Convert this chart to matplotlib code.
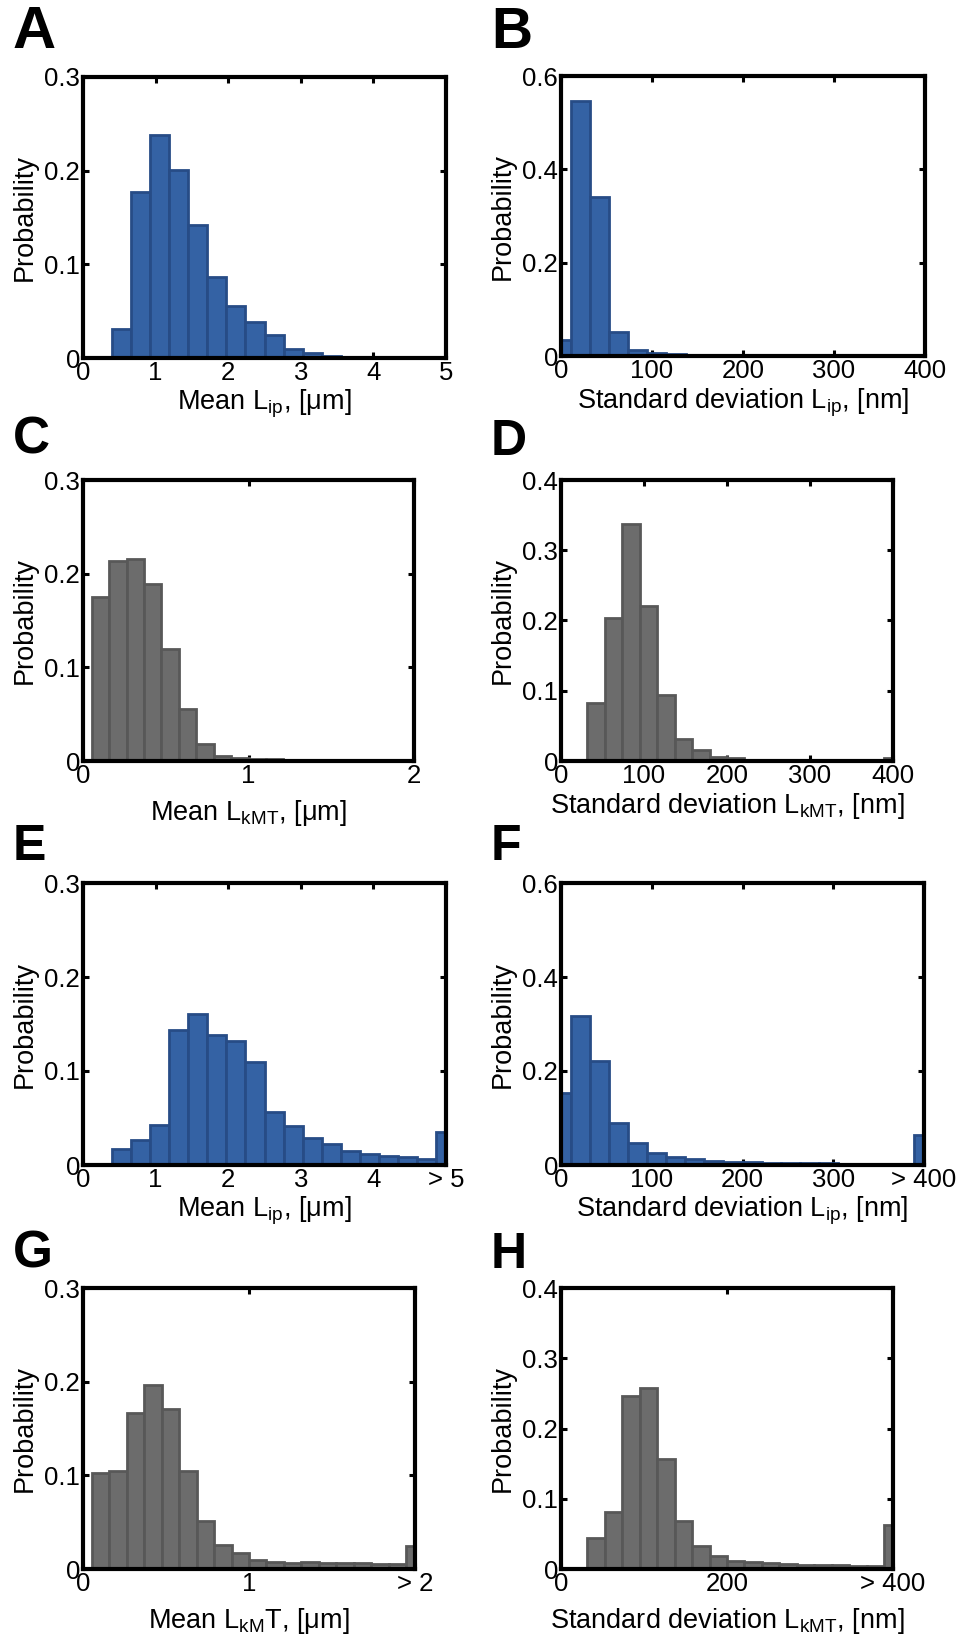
import numpy as np
import matplotlib as mpl
import matplotlib.pyplot as plt

mpl.rcParams.update({
    "font.family": ["Liberation Sans", "DejaVu Sans"],
    "mathtext.fontset": "custom",
    "mathtext.rm": "Liberation Sans",
    "mathtext.it": "Liberation Sans:italic",
    "mathtext.bf": "Liberation Sans:bold",
})

BLUE = "#3462a4"
BLUE_EDGE = "#274c86"
GREY = "#6c6c6c"
GREY_EDGE = "#585858"

# 20 bins, centres spread evenly over [0, xmax]
A_vals = [0, 0, 0.031, 0.177, 0.238, 0.201, 0.142, 0.087, 0.055, 0.038,
          0.025, 0.010, 0.005, 0.002, 0.0012, 0.0008, 0.0005, 0.0003, 0.0002, 0.0001]
B_vals = [0.035, 0.547, 0.340, 0.052, 0.013, 0.007, 0.004, 0.002, 0.0015, 0.001,
          0.001, 0.001, 0.001, 0.001, 0.001, 0.001, 0.001, 0.001, 0.001, 0.001]
C_vals = [0, 0.175, 0.213, 0.216, 0.189, 0.120, 0.056, 0.018, 0.0057, 0.0036,
          0.0025, 0.002, 0.0012, 0.001, 0.001, 0.001, 0.001, 0.001, 0.001, 0.0005]
D_vals = [0.001, 0.001, 0.082, 0.203, 0.337, 0.220, 0.094, 0.032, 0.0157, 0.005,
          0.004, 0.002, 0.002, 0.002, 0.002, 0.0015, 0.001, 0.001, 0.001, 0.004]
E_vals = [0, 0, 0.017, 0.0266, 0.0426, 0.144, 0.161, 0.138, 0.132, 0.110,
          0.056, 0.0415, 0.0284, 0.022, 0.0153, 0.0114, 0.0096, 0.0089, 0.006, 0.0355]
F_vals = [0.153, 0.317, 0.221, 0.090, 0.047, 0.026, 0.018, 0.013, 0.009, 0.0065,
          0.006, 0.005, 0.0045, 0.004, 0.004, 0.003, 0.002, 0.002, 0.002, 0.063]
G_vals = [0, 0.1025, 0.105, 0.167, 0.196, 0.171, 0.105, 0.051, 0.026, 0.017,
          0.010, 0.008, 0.0064, 0.007, 0.0064, 0.006, 0.006, 0.005, 0.005, 0.025]
H_vals = [0.001, 0.002, 0.044, 0.081, 0.246, 0.258, 0.157, 0.068, 0.033, 0.019,
          0.012, 0.0095, 0.009, 0.007, 0.006, 0.0057, 0.005, 0.004, 0.004, 0.063]

A_xticks = [0, 1, 2, 3, 4, 5]
A_xlabels = ["0", "1", "2", "3", "4", "5"]
B_xticks = [0, 100, 200, 300, 400]
B_xlabels = ["0", "100", "200", "300", "400"]
C_xticks = [0, 1, 2]
C_xlabels = ["0", "1", "2"]
E_xlabels = ["0", "1", "2", "3", "4", "> 5"]
F_xlabels = ["0", "100", "200", "300", "> 400"]
G_xlabels = ["0", "1", "> 2"]
H_xticks = [0, 200, 400]
H_xlabels = ["0", "200", "> 400"]

Y3 = [0, 0.1, 0.2, 0.3]
Y3_labels = ["0", "0.1", "0.2", "0.3"]
Y6 = [0, 0.2, 0.4, 0.6]
Y6_labels = ["0", "0.2", "0.4", "0.6"]
Y4 = [0, 0.1, 0.2, 0.3, 0.4]
Y4_labels = ["0", "0.1", "0.2", "0.3", "0.4"]

W, H = 959, 1642
fig = plt.figure(figsize=(W / 100, H / 100), dpi=100)

panels = [
    # letter, vals, xmax, xticks, xlabels, yticks, ylabels, color, edge, xlabel,
    # box (px l, r, t, b), labelpad, letter size, letter baseline offset
    ("A", A_vals, 5, A_xticks, A_xlabels, Y3, Y3_labels, BLUE, BLUE_EDGE,
     "Mean L$_{\\rm ip}$, [μm]", (83, 446, 77, 358), 2, 43, 29),
    ("B", B_vals, 400, B_xticks, B_xlabels, Y6, Y6_labels, BLUE, BLUE_EDGE,
     "Standard deviation L$_{\\rm ip}$, [nm]", (561, 925, 76, 356), 3, 41, 28),
    ("C", C_vals, 2, C_xticks, C_xlabels, Y3, Y3_labels, GREY, GREY_EDGE,
     "Mean L$_{\\rm kMT}$, [μm]", (83, 414, 480, 761), 7, 37, 27),
    ("D", D_vals, 400, B_xticks, B_xlabels, Y4, Y4_labels, GREY, GREY_EDGE,
     "Standard deviation L$_{\\rm kMT}$, [nm]", (561, 893, 480, 761), 2, 36, 25),
    ("E", E_vals, 5, A_xticks, E_xlabels, Y3, Y3_labels, BLUE, BLUE_EDGE,
     "Mean L$_{\\rm ip}$, [μm]", (83, 446, 883, 1165), 2, 36, 23),
    ("F", F_vals, 400, B_xticks, F_xlabels, Y6, Y6_labels, BLUE, BLUE_EDGE,
     "Standard deviation L$_{\\rm ip}$, [nm]", (561, 924, 883, 1165), 2, 36, 23),
    ("G", G_vals, 2, C_xticks, G_xlabels, Y3, Y3_labels, GREY, GREY_EDGE,
     "Mean L$_{\\rm kM}$T, [μm]", (83, 415, 1288, 1569), 7, 37, 21),
    ("H", H_vals, 400, H_xticks, H_xlabels, Y4, Y4_labels, GREY, GREY_EDGE,
     "Standard deviation L$_{\\rm kMT}$, [nm]", (561, 893, 1288, 1569), 7, 36, 20),
]

for letter, vals, xmax, xt, xl, yt, yl, col, edge, xlab, box, lpad, lsize, loff in panels:
    l, r, t, b = box
    ax = fig.add_axes([l / W, 1 - b / H, (r - l) / W, (b - t) / H])
    centers = np.linspace(0, xmax, len(vals))
    width = xmax / (len(vals) - 1)
    ax.bar(centers, vals, width=width, color=col, edgecolor=edge, linewidth=2.0,
           align="center", zorder=2)
    ax.set_xlim(0, xmax)
    ax.set_ylim(yt[0], yt[-1])
    ax.set_xticks(xt, xl)
    ax.set_yticks(yt, yl)
    ax.tick_params(direction="in", length=4, width=2.2, top=True, right=True,
                   labelsize=18.5, pad=2, colors="black")
    for s in ax.spines.values():
        s.set_linewidth(3.0)
        s.set_zorder(3)
    ax.set_xlabel(xlab, fontsize=19.5, labelpad=lpad)
    ax.set_ylabel("Probability", fontsize=19.5)
    # right edge of the rotated label sits ~45 px left of the axis
    ax.yaxis.set_label_coords(-45 / (r - l), 0.5)
    fig.text((l - 70) / W, 1 - (t - loff) / H, letter, fontsize=lsize,
             fontweight="bold", ha="left", va="baseline")

fig.savefig("out.png", dpi=100)
